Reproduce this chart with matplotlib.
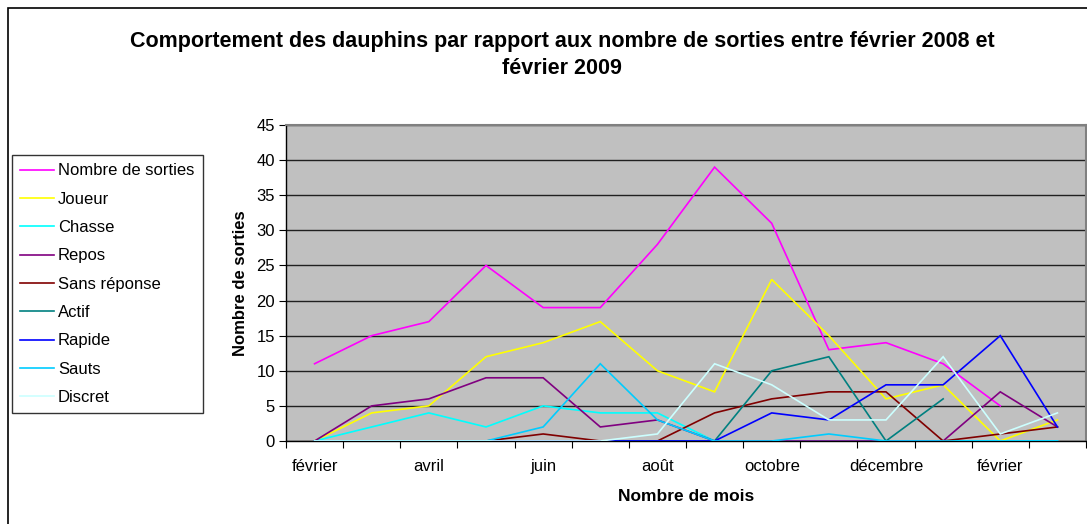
import numpy as np
import matplotlib
matplotlib.use("Agg")
import matplotlib.pyplot as plt
from matplotlib.patches import Rectangle

plt.rcParams["font.family"] = ["Liberation Sans", "DejaVu Sans"]

# ---- data (février 2008 -> mars 2009) ----
months = ["février", "mars", "avril", "mai", "juin", "juillet", "août",
          "septembre", "octobre", "novembre", "décembre", "janvier",
          "février", "mars"]
nan = np.nan
nombre_sorties = [11, 15, 17, 25, 19, 19, 28, 39, 31, 13, 14, 11, 5, nan]
joueur = [0, 4, 5, 12, 14, 17, 10, 7, 23, 15, 6, 8, 0, 3]
chasse = [0, 2, 4, 2, 5, 4, 4, 0, 0, 0, 0, 0, 0, 0]
repos = [0, 5, 6, 9, 9, 2, 3, 0, 0, 0, 0, 0, 7, 2]
sans_reponse = [0, 0, 0, 0, 1, 0, 0, 4, 6, 7, 7, 0, 1, 2]
actif = [0, 0, 0, 0, 0, 0, 0, 0, 10, 12, 0, 6, nan, nan]
rapide = [0, 0, 0, 0, 0, 0, 0, 0, 4, 3, 8, 8, 15, 2]
sauts = [0, 0, 0, 0, 2, 11, 3, 0, 0, 1, 0, 0, 0, 0]
discret = [0, 0, 0, 0, 0, 0, 1, 11, 8, 3, 3, 12, 1, 4]

series_names = ["Nombre de sorties", "Joueur", "Chasse", "Repos", "Sans réponse",
                "Actif", "Rapide", "Sauts", "Discret"]
series_values = [nombre_sorties, joueur, chasse, repos, sans_reponse,
                 actif, rapide, sauts, discret]
series_colors = ["#FF00FF", "#FFFF00", "#00FFFF", "#800080", "#800000",
                 "#008080", "#0000FF", "#00CCFF", "#CCFFFF"]

yticks = list(range(0, 50, 5))

# ---- figure ----
W, H = 1087, 524
fig = plt.figure(figsize=(W / 100, H / 100), dpi=100)
fig.patch.set_facecolor("white")

# outer chart border
fig.patches.append(Rectangle((8 / W, -0.05), 1.2, 1 - 8 / H + 0.05,
                             transform=fig.transFigure, fill=False,
                             edgecolor="black", linewidth=1.2))

ax = fig.add_axes([286 / W, 1 - 441 / H, 800 / W, (441 - 125) / H])
ax.set_facecolor("#C0C0C0")

x = np.arange(len(months))
lines = []
for name, vals, col in zip(series_names, series_values, series_colors):
    (ln,) = ax.plot(x, vals, color=col, linewidth=1.2, label=name,
                    solid_joinstyle="miter", zorder=3)
    lines.append(ln)

ax.set_xlim(-0.5, len(months) - 0.5)
ax.set_ylim(0, 45)
ax.set_yticks(yticks)
ax.set_yticklabels([str(v) for v in yticks], fontsize=12)
ax.yaxis.grid(True, color="#202020", linewidth=1.0, zorder=1)
ax.set_axisbelow(True)

# category boundaries as major ticks, labels on centres as minor
ax.set_xticks(np.arange(len(months) + 1) - 0.5)
ax.set_xticklabels([])
ax.set_xticks(x[::2], minor=True)
ax.set_xticklabels(months[::2], minor=True, fontsize=12)
ax.tick_params(axis="x", which="minor", length=0, pad=13)
ax.tick_params(axis="x", which="major", length=5, direction="out", color="black")
ax.tick_params(axis="y", length=5, direction="out", color="black", pad=3)

for s in ["left", "bottom"]:
    ax.spines[s].set_color("black")
    ax.spines[s].set_linewidth(1.0)
for s in ["top", "right"]:
    ax.spines[s].set_color("#808080")
    ax.spines[s].set_linewidth(1.5)

ax.set_xlabel("Nombre de mois", fontsize=12.5, fontweight="bold", labelpad=11)
ax.set_ylabel("Nombre de sorties", fontsize=12, fontweight="bold", labelpad=6)

fig.text(562 / W, 1 - 42 / H,
         "Comportement des dauphins par rapport aux nombre de sorties entre février 2008 et",
         ha="center", va="center", fontsize=15.5, fontweight="bold")
fig.text(562 / W, 1 - 69 / H, "février 2009",
         ha="center", va="center", fontsize=15.5, fontweight="bold")

leg = fig.legend(handles=lines, labels=series_names,
                 loc="upper left", bbox_to_anchor=(12 / W, 1 - 155 / H),
                 bbox_transform=fig.transFigure,
                 fontsize=12, frameon=True, fancybox=False, shadow=False,
                 borderpad=0.5, labelspacing=0.8, handlelength=2.0,
                 handletextpad=0.25, borderaxespad=0)
leg.get_frame().set_edgecolor("black")
leg.get_frame().set_linewidth(1.0)
leg.get_frame().set_facecolor("white")

fig.savefig("out.png", dpi=100)
